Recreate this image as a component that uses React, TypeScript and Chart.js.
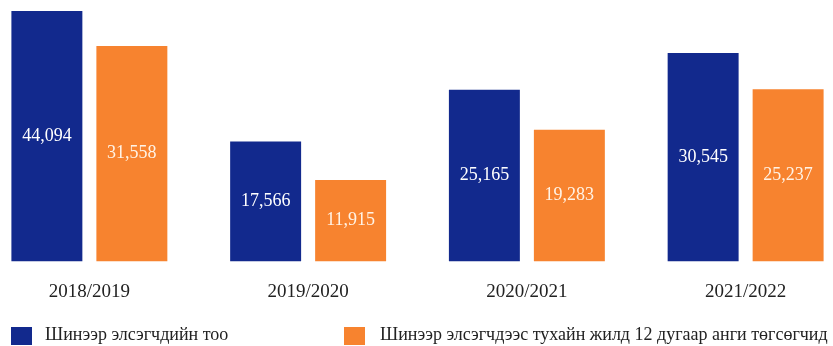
import React, { useEffect, useRef } from "react";
import { Chart, registerables } from "chart.js";

Chart.register(...registerables);

const categories = ["2018/2019", "2019/2020", "2020/2021", "2021/2022"];
const newEntrants = [44094, 17566, 25165, 30545];
const graduates = [31558, 11915, 19283, 25237];
const seriesNames = [
  "Шинээр элсэгчдийн тоо",
  "Шинээр элсэгчдээс тухайн жилд 12 дугаар анги төгсөгчид",
];

const BLUE = "#12298d";
const ORANGE = "#f7832f";
const FONT = "'Liberation Serif', 'Times New Roman', serif";

const valueLabels = {
  id: "valueLabels",
  afterDatasetsDraw(chart: any) {
    const ctx = chart.ctx;
    const area = chart.chartArea;
    ctx.save();
    ctx.font = `18px ${FONT}`;
    ctx.textAlign = "center";
    ctx.textBaseline = "middle";
    chart.data.datasets.forEach((ds: any, di: number) => {
      const meta = chart.getDatasetMeta(di);
      ctx.fillStyle = di === 0 ? "#ffffff" : "#fff3e6";
      meta.data.forEach((el: any, i: number) => {
        const top = Math.max(el.y, area.top);
        const mid = (top + el.base) / 2;
        ctx.fillText(Number(ds.data[i]).toLocaleString("en-US"), el.x, mid);
      });
    });
    ctx.restore();
  },
};

export default function App() {
  const ref = useRef<HTMLCanvasElement | null>(null);

  useEffect(() => {
    document.body.style.overflow = "hidden";
    const chart = new Chart(ref.current as HTMLCanvasElement, {
      type: "bar",
      data: {
        labels: categories,
        datasets: [
          {
            label: seriesNames[0],
            data: newEntrants,
            backgroundColor: BLUE,
            clip: { left: false, right: false, top: 0, bottom: false } as any,
          },
          {
            label: seriesNames[1],
            data: graduates,
            backgroundColor: ORANGE,
            clip: { left: false, right: false, top: 0, bottom: false } as any,
          },
        ],
      },
      options: {
        animation: false,
        responsive: false,
        maintainAspectRatio: false,
        datasets: {
          bar: { categoryPercentage: 0.777, barPercentage: 0.835 },
        },
        layout: { padding: { top: 11, bottom: 24, left: 0, right: 0 } },
        plugins: {
          legend: { display: false },
          tooltip: { enabled: false },
        },
        scales: {
          x: {
            offset: true,
            grid: { display: false, drawTicks: false },
            border: { display: false },
            ticks: {
              padding: 19,
              color: "#222222",
              font: { family: FONT, size: 19 },
            },
          },
          y: {
            display: false,
            min: 0,
            max: 36700,
          },
        },
      },
      plugins: [valueLabels],
    });
    return () => chart.destroy();
  }, []);

  const textStyle: React.CSSProperties = {
    position: "absolute",
    top: 325,
    fontFamily: FONT,
    fontSize: 18,
    lineHeight: "18px",
    color: "#222222",
    whiteSpace: "nowrap",
  };

  return (
    <div
      style={{
        position: "fixed",
        left: 0,
        top: 0,
        width: 833,
        height: 346,
        overflow: "hidden",
        background: "#ffffff",
      }}
    >
      <canvas
        ref={ref}
        width={875}
        height={346}
        style={{ position: "absolute", left: -20, top: 0, width: 875, height: 346 }}
      />
      <div style={{ position: "absolute", left: 11, top: 327, width: 21, height: 18, background: BLUE }} />
      <div style={{ ...textStyle, left: 45 }}>{seriesNames[0]}</div>
      <div style={{ position: "absolute", left: 344, top: 327, width: 21, height: 18, background: ORANGE }} />
      <div style={{ ...textStyle, left: 380 }}>{seriesNames[1]}</div>
    </div>
  );
}
